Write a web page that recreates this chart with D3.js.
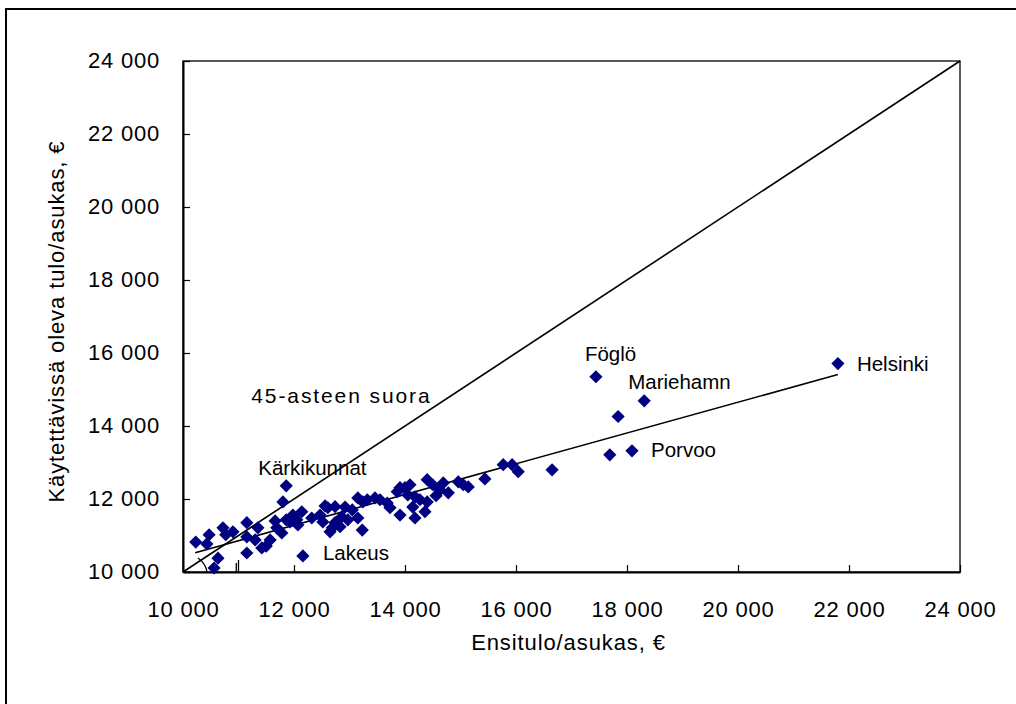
<!DOCTYPE html>
<html>
<head>
<meta charset="utf-8">
<script src="https://cdn.jsdelivr.net/npm/d3@7"></script>
<style>
  body { margin: 0; background: #fff; }
  svg text { font-family: "Liberation Sans", Arial, sans-serif; fill: #000; }
</style>
</head>
<body>
<div id="chart"></div>
<script>
// Ensitulo/asukas (x) ja käytettävissä oleva tulo/asukas (y), euroa
const ensitulo = [
  10230, 10470, 10430, 10720, 10900, 11150, 11150, 11350, 11150, 10630,
  10560, 11500, 11660, 11690, 11860, 11800, 12050, 12140, 12160, 12320,
  12520, 12560, 12740, 12650, 12830, 12690, 12970, 13050, 13150, 13240,
  13320, 13460, 13150, 13230, 13680, 13730, 13860, 13910, 14000, 14090,
  14050, 14180, 14140, 14360, 14180, 13910, 14400, 14500, 14690, 14780,
  14400, 14960, 15050, 15140, 15440, 15770, 15930, 16040, 16650, 11570,
  11780, 11930, 11420, 12610, 12920, 13550, 14270, 14560, 14630, 11980,
  12070, 11860, 10770, 11300, 12470, 12860, 12740,
  17440, 18310, 17840, 18090, 17690, 21800
];
const kaytettava = [
  10820, 11020, 10770, 11210, 11100, 11350, 10960, 11210, 10520, 10380,
  10110, 10710, 11400, 11210, 12360, 11920, 11430, 11650, 10440, 11480,
  11370, 11810, 11350, 11100, 11240, 11210, 11430, 11700, 12030, 11920,
  11980, 12030, 11480, 11150, 11890, 11760, 12200, 12310, 12310, 12390,
  12110, 12060, 11780, 11650, 11480, 11560, 12530, 12390, 12440, 12170,
  11920, 12470, 12390, 12330, 12550, 12940, 12940, 12750, 12800, 10880,
  11070, 11370, 10660, 11760, 11780, 11980, 11980, 12090, 12250, 11560,
  11290, 11430, 11020, 10880, 11560, 11510, 11790,
  15350, 14690, 14260, 13320, 13210, 15710
];

const labelNames = ["Kärkikunnat", "Lakeus", "Föglö", "Mariehamn", "Porvoo", "Helsinki"];
const labelIdx = [14, 18, 77, 78, 80, 82];

// trend line end points
const trendX = [10220, 21800];
const trendY = [10530, 15410];

const xTicks = [10000, 12000, 14000, 16000, 18000, 20000, 22000, 24000];
const yTicks = [10000, 12000, 14000, 16000, 18000, 20000, 22000, 24000];

const xTitle = "Ensitulo/asukas, €";
const yTitle = "Käytettävissä oleva tulo/asukas, €";
const diagLabel = "45-asteen suora";

const W = 1016, H = 704;
const plot = { left: 183, right: 960, top: 61, bottom: 572 };

const fi = d3.formatLocale({ decimal: ",", thousands: "\u00a0", grouping: [3], currency: ["", " €"] });
const fmt = fi.format(",");

const svg = d3.select("#chart").append("svg")
  .attr("width", W)
  .attr("height", H);

// outer frame (right and bottom run off the picture)
svg.append("rect")
  .attr("x", 6).attr("y", 9)
  .attr("width", W + 40).attr("height", H + 40)
  .attr("fill", "none")
  .attr("stroke", "#000")
  .attr("stroke-width", 2);

const x = d3.scaleLinear().domain([10000, 24000]).range([plot.left, plot.right]);
const y = d3.scaleLinear().domain([10000, 24000]).range([plot.bottom, plot.top]);

// plot area box
svg.append("rect")
  .attr("x", x(10000)).attr("y", y(24000))
  .attr("width", x(24000) - x(10000))
  .attr("height", y(10000) - y(24000))
  .attr("fill", "none")
  .attr("stroke", "#000")
  .attr("stroke-width", 1.3);

// axes, ticks pointing inwards
const xAxis = svg.append("g")
  .attr("transform", `translate(0,${plot.bottom})`)
  .call(d3.axisBottom(x).tickValues(xTicks).tickFormat(fmt)
    .tickSizeInner(-7).tickSizeOuter(0).tickPadding(29));
const yAxis = svg.append("g")
  .attr("transform", `translate(${plot.left},0)`)
  .call(d3.axisLeft(y).tickValues(yTicks).tickFormat(fmt)
    .tickSizeInner(-7).tickSizeOuter(0).tickPadding(23));

[xAxis, yAxis].forEach(g => {
  g.select(".domain").attr("stroke", "#000").attr("stroke-width", 2);
  g.selectAll(".tick line").attr("stroke", "#000").attr("stroke-width", 1.2);
  g.selectAll(".tick text")
    .attr("font-size", 22)
    .attr("letter-spacing", 0.8)
    .attr("fill", "#000");
});
yAxis.selectAll(".tick text").attr("dy", "0.3em");

// axis titles
svg.append("text")
  .attr("x", (x(10000) + x(24000)) / 2 - 3)
  .attr("y", 650)
  .attr("text-anchor", "middle")
  .attr("font-size", 22)
  .attr("letter-spacing", 0.9)
  .text(xTitle);

svg.append("text")
  .attr("transform", `translate(64,${(y(10000) + y(24000)) / 2 + 5}) rotate(-90)`)
  .attr("text-anchor", "middle")
  .attr("font-size", 22)
  .attr("letter-spacing", 0.9)
  .text(yTitle);

// 45 degree line
svg.append("line")
  .attr("x1", x(10000)).attr("y1", y(10000))
  .attr("x2", x(24000)).attr("y2", y(24000))
  .attr("stroke", "#000")
  .attr("stroke-width", 1.6);

// angle mark near the origin
const ox = x(10000), oy = y(10000);
svg.append("path")
  .attr("d", `M${ox + 15},${oy - 14} Q${ox + 23},${oy - 8} ${ox + 24},${oy}`)
  .attr("fill", "none")
  .attr("stroke", "#000")
  .attr("stroke-width", 1.3);
svg.append("line")
  .attr("x1", x(10960)).attr("x2", x(10960))
  .attr("y1", oy - 9).attr("y2", oy)
  .attr("stroke", "#000").attr("stroke-width", 1.3);
svg.append("line")
  .attr("x1", x(11000)).attr("x2", x(11000))
  .attr("y1", oy - 12).attr("y2", oy)
  .attr("stroke", "#000").attr("stroke-width", 1.3);

// trend line
svg.append("line")
  .attr("x1", x(trendX[0])).attr("y1", y(trendY[0]))
  .attr("x2", x(trendX[1])).attr("y2", y(trendY[1]))
  .attr("stroke", "#000")
  .attr("stroke-width", 1.6);

// points
const pts = ensitulo.map((v, i) => ({ ex: v, kt: kaytettava[i] }));
const diamond = "M0,-6.6L6.6,0L0,6.6L-6.6,0Z";
svg.append("g")
  .selectAll("path")
  .data(pts)
  .join("path")
  .attr("d", diamond)
  .attr("transform", d => `translate(${x(d.ex)},${y(d.kt)})`)
  .attr("fill", "#000080");

// point labels
const labelOffset = {
  "Kärkikunnat": [-28, -11],
  "Lakeus": [20, 4],
  "Föglö": [-11, -16],
  "Mariehamn": [-16, -12],
  "Porvoo": [19, 6],
  "Helsinki": [19, 7]
};
svg.append("g")
  .selectAll("text")
  .data(labelNames)
  .join("text")
  .attr("x", (d, i) => x(ensitulo[labelIdx[i]]) + labelOffset[d][0])
  .attr("y", (d, i) => y(kaytettava[labelIdx[i]]) + labelOffset[d][1])
  .attr("font-size", 20.5)
  .text(d => d);

svg.append("text")
  .attr("x", x(11230))
  .attr("y", y(14640))
  .attr("font-size", 21)
  .attr("letter-spacing", 1.9)
  .text(diagLabel);
</script>
</body>
</html>
